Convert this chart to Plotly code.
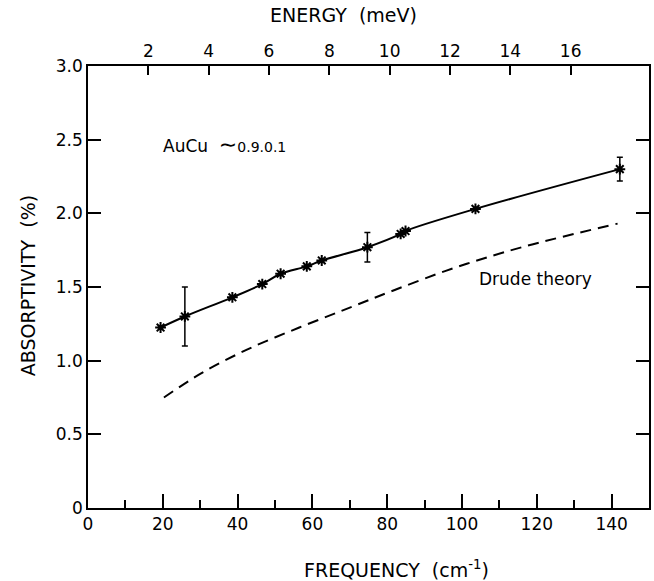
import plotly.graph_objects as go

# measured absorptivity of AuCu (frequency in cm^-1, absorptivity in %)
freq = [19.4, 25.9, 38.6, 46.6, 51.5, 58.5, 62.5, 74.7, 83.6, 84.9, 103.6, 142.2]
absorp = [1.225, 1.30, 1.43, 1.52, 1.59, 1.64, 1.68, 1.77, 1.86, 1.88, 2.03, 2.30]
err = [0, 0.20, 0, 0, 0, 0, 0, 0.10, 0, 0, 0, 0.08]

# Drude theory curve
drude_freq = [20.3, 30.0, 42.5, 56.5, 70.0, 82.0, 98.0, 116.0, 141.6]
drude_abs = [0.75, 0.91, 1.075, 1.225, 1.36, 1.48, 1.63, 1.77, 1.93]

# axis ticks
freq_ticks = [0, 20, 40, 60, 80, 100, 120, 140]
energy_ticks = [2, 4, 6, 8, 10, 12, 14, 16]
abs_ticks = [0, 0.5, 1.0, 1.5, 2.0, 2.5, 3.0]
abs_tick_text = ["0", "0.5", "1.0", "1.5", "2.0", "2.5", "3.0"]
CM_PER_MEV = 8.0655
XMAX = 150

FONT = "DejaVu Sans"

fig = go.Figure()

fig.add_trace(go.Scatter(
    x=drude_freq, y=drude_abs, mode="lines",
    line=dict(color="black", width=2, dash="11px,7px", shape="spline"),
    hoverinfo="skip", showlegend=False))

fig.add_trace(go.Scatter(
    x=freq, y=absorp, mode="lines+markers",
    line=dict(color="black", width=2, shape="spline"),
    marker=dict(symbol="asterisk-open", size=9, color="black",
                line=dict(color="black", width=2)),
    error_y=dict(type="data", array=err, visible=True, color="black",
                 thickness=1.5, width=3),
    showlegend=False))

# invisible trace for the top energy axis
fig.add_trace(go.Scatter(x=[0, XMAX / CM_PER_MEV], y=[0, 0], xaxis="x2",
                         mode="lines", line=dict(width=0), opacity=0,
                         showlegend=False, hoverinfo="skip"))

axis_common = dict(showgrid=False, zeroline=False, showline=True, linecolor="black",
                   linewidth=1.5, ticks="inside", tickcolor="black", tickwidth=1.5,
                   tickfont=dict(family=FONT, size=17, color="black"))

TF = dict(family=FONT, size=19, color="black")

fig.update_layout(
    width=654, height=581,
    margin=dict(l=88, r=3, t=66, b=73),
    paper_bgcolor="white", plot_bgcolor="white",
    xaxis=dict(range=[0, XMAX], tickvals=freq_ticks, ticklen=14, mirror=True,
               minor=dict(dtick=10, tick0=0, ticklen=8, ticks="inside",
                          tickcolor="black", tickwidth=1.5),
               **axis_common),
    xaxis2=dict(range=[0, XMAX / CM_PER_MEV], overlaying="x", side="top",
                tickvals=energy_ticks, ticklen=9, anchor="y", **axis_common),
    yaxis=dict(range=[0, 3.0], tickvals=abs_ticks, ticktext=abs_tick_text,
               ticklen=13, mirror="ticks", **axis_common),
    annotations=[
        dict(text="FREQUENCY\u00a0\u00a0(cm<sup>-1</sup>)", xref="paper", yref="paper",
             x=(398 - 88) / 563, y=-(569 - 508) / 442, showarrow=False,
             font=TF, xanchor="center", yanchor="middle"),
        dict(text="ENERGY\u00a0\u00a0(meV)", xref="paper", yref="paper",
             x=(344 - 88) / 563, y=1 + (66 - 15) / 442, showarrow=False,
             font=TF, xanchor="center", yanchor="middle"),
        dict(text="ABSORPTIVITY\u00a0\u00a0(%)", xref="paper", yref="paper",
             x=-(88 - 28) / 563, y=(508 - 286) / 442, showarrow=False, textangle=-90,
             font=TF, xanchor="center", yanchor="middle"),
        dict(text="AuCu\u00a0 <span style='font-size:22px'>\u223c</span><span style='font-size:14px'>0.9.0.1</span>",
             x=19.6, y=2.47, showarrow=False, xanchor="left", yanchor="middle",
             font=dict(family=FONT, size=17, color="black")),
        dict(text="Drude theory", x=104, y=1.556, showarrow=False,
             xanchor="left", yanchor="middle",
             font=dict(family=FONT, size=17, color="black")),
    ],
)

fig.write_html("out.html", post_script="document.body.style.margin='0px';",
               config={"displayModeBar": False})
